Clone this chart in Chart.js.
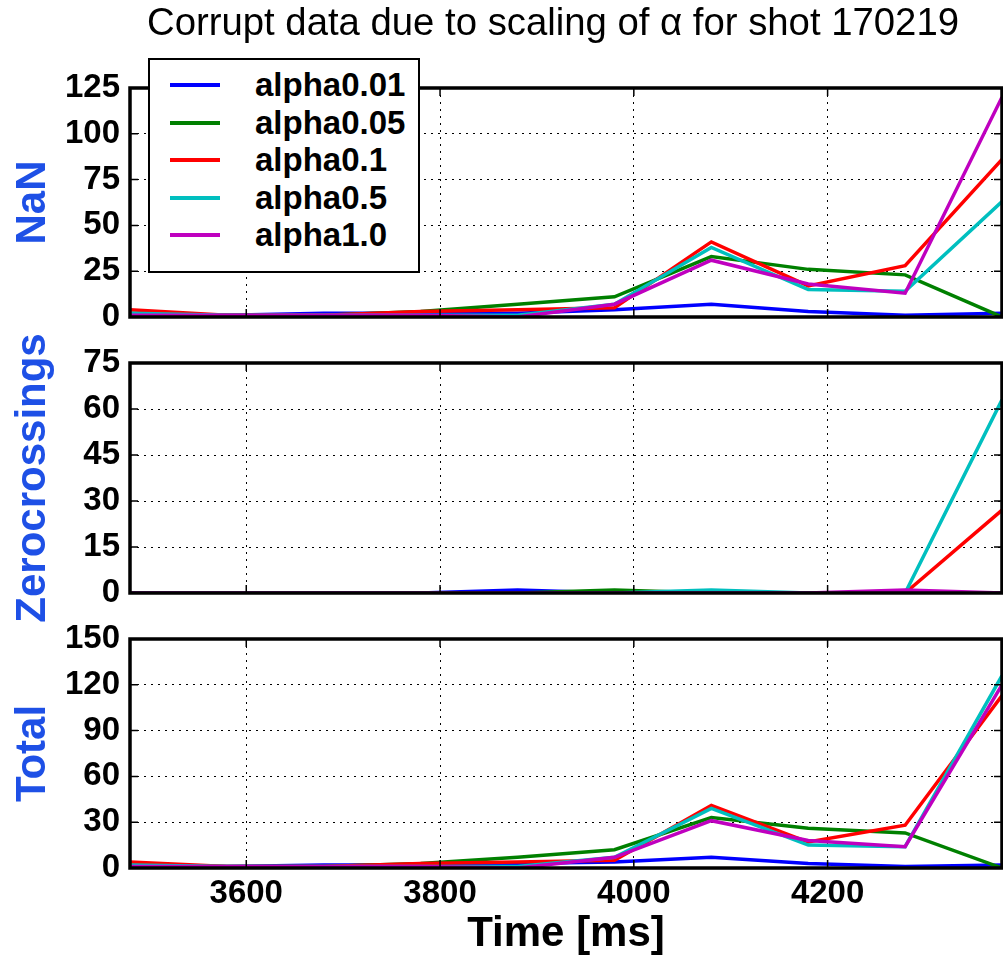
<!DOCTYPE html>
<html>
<head>
<meta charset="utf-8">
<script src="https://cdn.jsdelivr.net/npm/chart.js@4.4.1/dist/chart.umd.min.js"></script>
<style>
html,body{margin:0;padding:0;background:#fff;}
#wrap{position:relative;width:1003px;height:957px;overflow:hidden;font-family:"Liberation Sans",Arial,Helvetica,sans-serif;}
#wrap canvas{position:absolute;left:0;top:0;}
#title{position:absolute;left:147px;top:3px;font-size:38.3px;line-height:38px;white-space:nowrap;color:#000;z-index:6;}
#legend{position:absolute;left:148px;top:58px;width:268px;height:205px;border:2px solid #000;background:#fff;z-index:5;padding-top:6px;box-sizing:content-box;}
.row{position:relative;height:37.5px;}
.sw{position:absolute;left:20px;top:17px;width:50px;height:4px;}
.lbl{position:absolute;left:105px;top:0;line-height:37.5px;font-size:33px;font-weight:bold;color:#000;white-space:nowrap;}
</style>
</head>
<body>
<div id="wrap">
  <canvas id="c1" width="1003" height="957"></canvas>
  <canvas id="c2" width="1003" height="957"></canvas>
  <canvas id="c3" width="1003" height="957"></canvas>
  <div id="title">Corrupt data due to scaling of α for shot 170219</div>
  <div id="legend"></div>
</div>
<script>
// ---- data ----
const times = [3480, 3580, 3680, 3780, 3880, 3980, 4080, 4180, 4280, 4380];
const seriesLabels = ['alpha0.01', 'alpha0.05', 'alpha0.1', 'alpha0.5', 'alpha1.0'];
const seriesColors = ['#0000ff', '#008000', '#ff0000', '#00bfbf', '#bf00bf'];
const xTicks = [3600, 3800, 4000, 4200];

// NaN counts
const nanA001 = [1, 1, 2, 2, 2, 4, 7, 3, 1, 2];
const nanA005 = [2, 1, 1, 3, 7, 11, 33, 26, 23, 0];
const nanA01  = [4, 1, 1, 3, 4, 5, 41, 17, 28, 86];
const nanA05  = [2, 1, 1, 1, 1, 7, 38, 15, 14, 63];
const nanA10  = [1, 1, 1, 1, 0, 7, 31, 18, 13, 120];

// Zero crossings
const zcA001 = [0, 0, 0, 0, 1, 0, 0, 0, 0, 0];
const zcA005 = [0, 0, 0, 0, 0, 1, 0, 0, 0, 0];
const zcA01  = [0, 0, 0, 0, 0, 0, 0, 0, 0, 27];
const zcA05  = [0, 0, 0, 0, 0, 0, 1, 0, 0, 63];
const zcA10  = [0, 0, 0, 0, 0, 0, 0, 0, 1, 0];

// Total
const totA001 = [1, 1, 2, 2, 3, 4, 7, 3, 1, 2];
const totA005 = [2, 1, 1, 3, 7, 12, 33, 26, 23, 0];
const totA01  = [4, 1, 1, 3, 4, 5, 41, 17, 28, 113];
const totA05  = [2, 1, 1, 1, 1, 7, 39, 15, 14, 126];
const totA10  = [1, 1, 1, 1, 0, 7, 31, 18, 14, 120];

const nanTicks = [0, 25, 50, 75, 100, 125];
const zcTicks = [0, 15, 30, 45, 60, 75];
const totTicks = [0, 30, 60, 90, 120, 150];

// ---- legend (HTML) ----
const leg = document.getElementById('legend');
seriesLabels.forEach((l, i) => {
  const r = document.createElement('div'); r.className = 'row';
  const s = document.createElement('div'); s.className = 'sw'; s.style.background = seriesColors[i];
  const t = document.createElement('div'); t.className = 'lbl'; t.textContent = l;
  r.appendChild(s); r.appendChild(t); leg.appendChild(r);
});

const FONT = "'Liberation Sans', Arial, Helvetica, sans-serif";
const W = 1003, H = 957, PLOT_L = 130, PLOT_R = 1002;

const framePlugin = {
  id: 'frame',
  afterDatasetsDraw(chart) {
    const {ctx, chartArea: a} = chart;
    const xs = chart.scales.x, ys = chart.scales.y;
    ctx.save();
    ctx.strokeStyle = '#000';
    ctx.lineWidth = 1.5;
    ctx.beginPath();
    ys.ticks.forEach(t => {
      const p = ys.getPixelForValue(t.value);
      ctx.moveTo(a.left, p); ctx.lineTo(a.left + 8, p);
      ctx.moveTo(a.right - 8, p); ctx.lineTo(a.right, p);
    });
    xs.ticks.forEach(t => {
      const p = xs.getPixelForValue(t.value);
      ctx.moveTo(p, a.top); ctx.lineTo(p, a.top + 8);
      ctx.moveTo(p, a.bottom - 8); ctx.lineTo(p, a.bottom);
    });
    ctx.stroke();
    ctx.lineWidth = 3.5;
    ctx.strokeRect(a.left, a.top, a.right - a.left, a.bottom - a.top);
    ctx.restore();
  }
};

function makeChart(id, seriesArrays, yTickVals, yLabel, top, bottom, showX) {
  const datasets = seriesArrays.map((arr, i) => ({
    label: seriesLabels[i],
    data: times.map((t, k) => ({x: t, y: arr[k]})),
    borderColor: seriesColors[i],
    backgroundColor: seriesColors[i],
    borderWidth: 3.5,
    pointRadius: 0,
    tension: 0,
    fill: false,
    order: seriesArrays.length - 1 - i
  }));
  const xAxisH = showX ? (H - bottom) : 0;
  return new Chart(document.getElementById(id), {
    type: 'line',
    data: {datasets},
    plugins: [framePlugin],
    options: {
      responsive: false,
      animation: false,
      events: [],
      layout: {padding: {left: 0, right: W - PLOT_R, top: top, bottom: showX ? 0 : (H - bottom)}},
      plugins: {legend: {display: false}, tooltip: {enabled: false}, title: {display: false}},
      scales: {
        x: {
          type: 'linear',
          min: times[0],
          max: times[times.length - 1],
          afterBuildTicks: s => { s.ticks = xTicks.map(v => ({value: v})); },
          afterFit: s => { s.height = xAxisH; },
          grid: {color: '#000', lineWidth: 1, drawTicks: false},
          border: {display: false, dash: [2, 5]},
          ticks: {
            display: showX,
            padding: 9,
            color: '#000',
            callback: v => String(v),
            font: {family: FONT, size: 33, weight: 'bold', lineHeight: 1},
            maxRotation: 0
          },
          title: {
            display: showX,
            text: 'Time [ms]',
            color: '#000',
            font: {family: FONT, size: 42, weight: 'bold', lineHeight: 1},
            padding: {top: 0, bottom: 2}
          }
        },
        y: {
          type: 'linear',
          min: yTickVals[0],
          max: yTickVals[yTickVals.length - 1],
          afterBuildTicks: s => { s.ticks = yTickVals.map(v => ({value: v})); },
          afterFit: s => { s.width = PLOT_L; },
          grid: {color: '#000', lineWidth: 1, drawTicks: false},
          border: {display: false, dash: [2, 5]},
          ticks: {
            padding: 10,
            color: '#000',
            callback: v => String(v),
            font: {family: FONT, size: 33, weight: 'bold', lineHeight: 1}
          },
          title: {
            display: true,
            text: yLabel,
            color: '#1e50e6',
            font: {family: FONT, size: 42, weight: 'bold', lineHeight: 1},
            padding: {top: 12, bottom: 0}
          }
        }
      }
    }
  });
}

makeChart('c1', [nanA001, nanA005, nanA01, nanA05, nanA10], nanTicks, 'NaN', 88, 317, false);
makeChart('c2', [zcA001, zcA005, zcA01, zcA05, zcA10], zcTicks, 'Zerocrossings', 363, 593, false);
makeChart('c3', [totA001, totA005, totA01, totA05, totA10], totTicks, 'Total', 639, 868, true);
</script>
</body>
</html>
